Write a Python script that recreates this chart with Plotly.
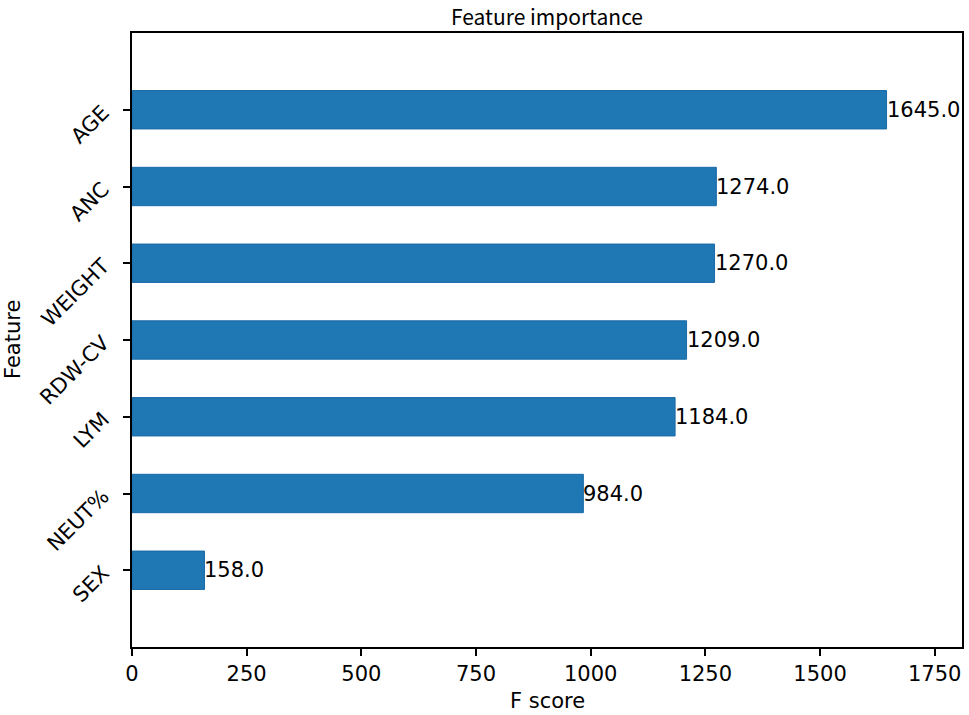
import plotly.graph_objects as go

features = ["SEX", "NEUT%", "LYM", "RDW-CV", "WEIGHT", "ANC", "AGE"]
scores = [158.0, 984.0, 1184.0, 1209.0, 1270.0, 1274.0, 1645.0]
x_ticks = [0, 250, 500, 750, 1000, 1250, 1500, 1750]

W, H = 969, 715
L, R, T, B = 132, 7, 33, 68

tick_font = dict(family="DejaVu Sans, Verdana, sans-serif", size=21, color="black")
axis_title_font = dict(family="DejaVu Sans, Verdana, sans-serif", size=21, color="black")
title_font = dict(family="Noto Sans CJK JP", size=21, color="black")

fig = go.Figure()
fig.add_trace(go.Bar(
    x=scores, y=list(range(len(features))), orientation="h",
    width=0.5, marker=dict(color="#1f77b4", line=dict(color="#1a6aa8", width=1)),
    hoverinfo="skip",
))

annotations = []
for i, v in enumerate(scores):
    annotations.append(dict(
        x=v, y=i, xref="x", yref="y", text=f"{v:.1f}", showarrow=False,
        xanchor="left", yanchor="middle", xshift=-2, font=tick_font,
    ))
annotations.append(dict(
    text="Feature importance", x=0.5, y=1, xref="paper", yref="paper",
    yanchor="middle", yshift=17, borderpad=0, showarrow=False, font=title_font,
))
annotations.append(dict(
    text="F score", x=0.5, y=0, xref="paper", yref="paper",
    yanchor="top", yshift=-40, showarrow=False, font=axis_title_font,
))
annotations.append(dict(
    text="Feature", x=0, y=0.5, xref="paper", yref="paper",
    xanchor="center", xshift=-119, textangle=-90, showarrow=False, font=axis_title_font,
))

fig.update_layout(
    width=W, height=H,
    margin=dict(l=L, r=R, t=T, b=B, autoexpand=False),
    paper_bgcolor="white", plot_bgcolor="white",
    showlegend=False,
    annotations=annotations,
    xaxis=dict(
        range=[0, max(scores) * 1.1], tickvals=x_ticks,
        ticktext=[str(t) for t in x_ticks],
        showgrid=False, zeroline=False, automargin=False,
        showline=True, linecolor="black", linewidth=1.5, mirror=True,
        ticks="outside", ticklen=7, tickcolor="black", tickwidth=1.5,
        tickfont=tick_font,
    ),
    yaxis=dict(
        range=[-1, len(features)], tickvals=list(range(len(features))),
        ticktext=features, tickangle=-45, ticklabelstandoff=16,
        showgrid=False, zeroline=False, automargin=False,
        showline=True, linecolor="black", linewidth=1.5, mirror=True,
        ticks="outside", ticklen=7, tickcolor="black", tickwidth=1.5,
        tickfont=tick_font,
    ),
)

fig.write_html(
    "out.html",
    config={"displayModeBar": False},
    post_script="document.body.style.margin='0px';document.body.style.overflow='hidden';",
)
